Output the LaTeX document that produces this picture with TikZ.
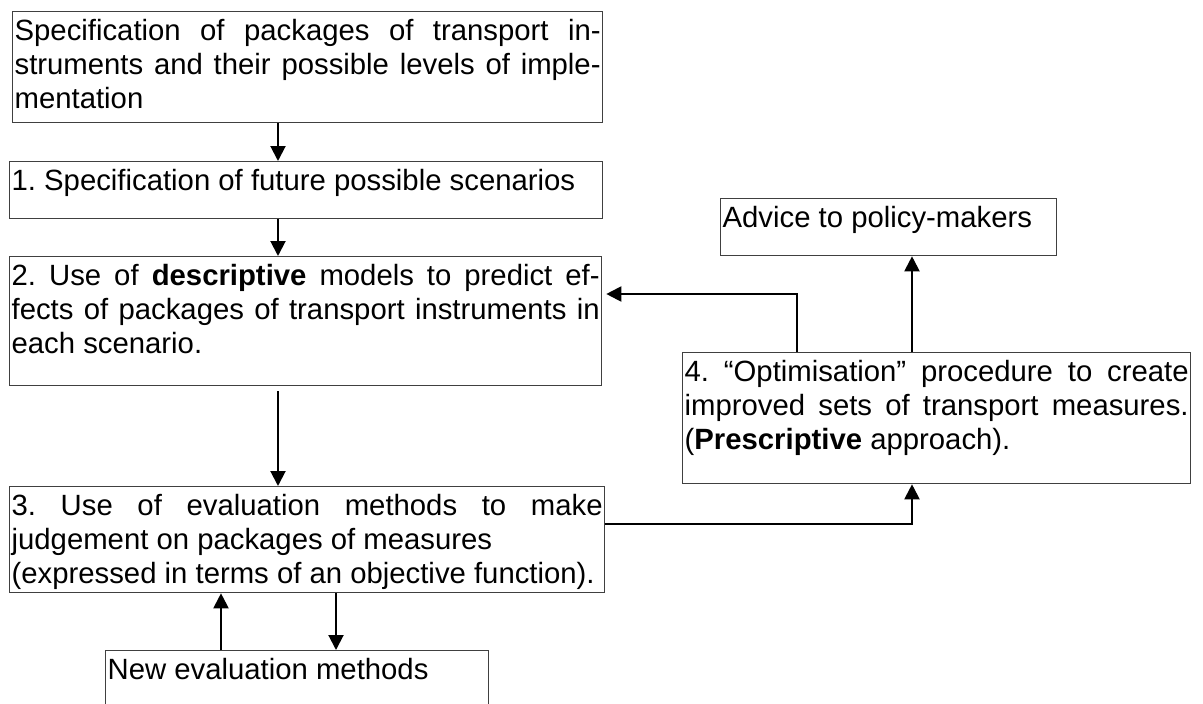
\documentclass[tikz,border=0pt]{standalone}
\usepackage{fontspec}
\setmainfont{Liberation Sans}
\usetikzlibrary{arrows.meta}
\definecolor{boxGrey}{rgb}{0.25, 0.25, 0.25}
\frenchspacing

% text in a box, hung from the top
\newcommand{\stagetext}[3]{\parbox[t][#2pt][t]{#1pt}{\strut#3}}

\tikzset{
    stage/.style={draw=boxGrey, line width=1.3pt, anchor=north west, inner xsep=2pt, inner ysep=5pt,
        font=\fontsize{29.3}{34}\selectfont},
    flow/.style={draw, line width=2pt, -{Triangle[length=15pt, width=15pt]}}
}

\begin{document}
\begin{tikzpicture}[x=1pt, y=-1pt]
        \useasboundingbox (0,0) rectangle (1203,704);

        % left column
        \node[stage] (packages) at (12,11) {\stagetext{586}{101}{Specification of packages of transport in-\linebreak struments and their possible levels of imple-\linebreak mentation}};
        \node[stage] (scenarios) at (9,161) {\stagetext{589}{47}{1. Specification of future possible scenarios}};
        \node[stage] (descriptive) at (9,256) {\stagetext{588}{119}{2. Use of \textbf{descriptive} models to predict ef-\linebreak fects of packages of transport instruments in\linebreak each scenario.}};
        \node[stage] (evaluation) at (9,486) {\stagetext{591}{96}{3. Use of evaluation methods to make\linebreak judgement on packages of measures\newline (expressed in terms of an objective function).}};
        \node[stage] (newmethods) at (105,650) {\stagetext{379}{55}{New evaluation methods}};

        % right column
        \node[stage] (advice) at (720,198) {\stagetext{332}{47}{Advice to policy-makers}};
        \node[stage] (optimise) at (682,352) {\stagetext{504}{121}{4. “Optimisation” procedure to create\linebreak improved sets of transport measures.\linebreak (\textbf{Prescriptive} approach).}};

        % where the lines run
        \coordinate (mainline) at (278,0);
        \coordinate (upline) at (221,0);
        \coordinate (downline) at (336,0);
        \coordinate (feedback) at (797,294);
        \coordinate (toadvice) at (912,0);
        \coordinate (judged) at (912,524);

        % connectors
        \draw[flow] (packages.south -| mainline) -- (scenarios.north -| mainline);
        \draw[flow] (scenarios.south -| mainline) -- (descriptive.north -| mainline);
        \draw[flow, shorten <=5pt] (descriptive.south -| mainline) -- (evaluation.north -| mainline);
        \draw[flow] (newmethods.north -| upline) -- (evaluation.south -| upline);
        \draw[flow] (evaluation.south -| downline) -- (newmethods.north -| downline);
        \draw[flow] (evaluation.east |- judged) -- (judged) -- (optimise.south -| judged);
        \draw[flow] (optimise.north -| toadvice) -- (advice.south -| toadvice);
        \draw[flow, shorten >=4pt] (optimise.north -| feedback) -- (feedback) -- (descriptive.east |- feedback);

\end{tikzpicture}
\end{document}
